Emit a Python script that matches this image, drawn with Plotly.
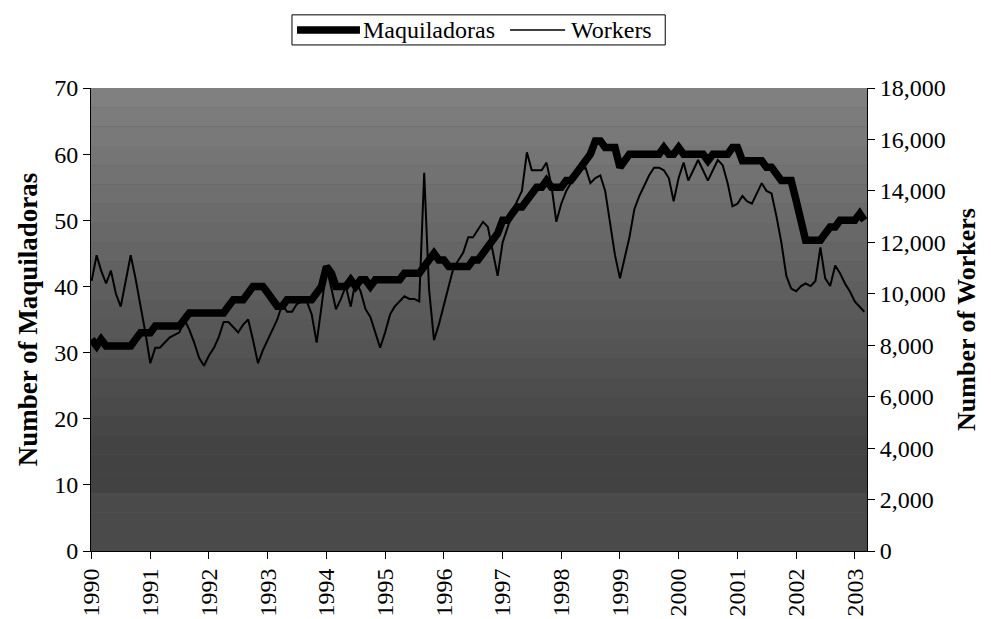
import pandas as pd
import plotly.graph_objects as go

# monthly observations, Jan 1990 .. Mar 2003
months = pd.date_range("1990-01-01", periods=159, freq="MS")

maquiladoras = [
    32, 31, 32, 31, 31, 31, 31, 31, 31, 32, 33, 33,   # 1990
    33, 34, 34, 34, 34, 34, 34, 35, 36, 36, 36, 36,   # 1991
    36, 36, 36, 36, 37, 38, 38, 38, 39, 40, 40, 40,   # 1992
    39, 38, 37, 37, 38, 38, 38, 38, 38, 38, 39, 40,   # 1993
    43, 42, 40, 40, 40, 41, 40, 41, 41, 40, 41, 41,   # 1994
    41, 41, 41, 41, 42, 42, 42, 42, 43, 44, 45, 44,   # 1995
    44, 43, 43, 43, 43, 43, 44, 44, 45, 46, 47, 48,   # 1996
    50, 50, 51, 52, 52, 53, 54, 55, 55, 56, 55, 55,   # 1997
    55, 56, 56, 57, 58, 59, 60, 62, 62, 61, 61, 61,   # 1998
    58, 59, 60, 60, 60, 60, 60, 60, 60, 61, 60, 60,   # 1999
    61, 60, 60, 60, 60, 60, 59, 60, 60, 60, 60, 61,   # 2000
    61, 59, 59, 59, 59, 59, 58, 58, 57, 56, 56, 56,   # 2001
    53, 50, 47, 47, 47, 47, 48, 49, 49, 50, 50, 50,   # 2002
    50, 51, 50,                                       # 2003
]

workers = [
    10500, 11500, 10900, 10400, 10900, 10000, 9500, 10500, 11500, 10600, 9600, 8500,
    7300, 7900, 7900, 8100, 8300, 8400, 8500, 9000, 8600, 8100, 7500, 7200,
    7600, 7900, 8300, 8900, 8900, 8700, 8500, 8800, 9000, 8200, 7300, 7800,
    8200, 8600, 9000, 9600, 9300, 9300, 9600, 9700, 9700, 9200, 8100, 9500,
    11000, 10200, 9400, 9800, 10300, 9500, 10500, 10100, 9400, 9100, 8500, 7900,
    8500, 9200, 9500, 9700, 9900, 9800, 9800, 9700, 14700, 10200, 8200, 8800,
    9600, 10300, 11000, 11300, 11600, 12200, 12200, 12500, 12800, 12600, 11700, 10700,
    12000, 12600, 13100, 13600, 14000, 15500, 14800, 14800, 14800, 15100, 14200, 12800,
    13500, 14000, 14300, 14500, 14800, 14900, 14300, 14500, 14600, 14000, 12800, 11500,
    10600, 11400, 12200, 13300, 13800, 14200, 14600, 14900, 14900, 14800, 14500, 13600,
    14500, 15100, 14400, 14800, 15200, 14800, 14400, 14800, 15200, 15000, 14300, 13400,
    13500, 13800, 13600, 13500, 13900, 14300, 14000, 13900, 13000, 12000, 10700, 10200,
    10100, 10300, 10400, 10300, 10500, 11800, 10600, 10300, 11100, 10800, 10400, 10100,
    9700, 9500, 9300,
]

FONT = "Liberation Serif, Times New Roman, serif"

fig = go.Figure()
fig.add_trace(go.Scatter(
    x=months, y=maquiladoras, mode="lines", name="Maquiladoras",
    line=dict(color="black", width=7.5)))
fig.add_trace(go.Scatter(
    x=months, y=workers, mode="lines", name="Workers", yaxis="y2",
    line=dict(color="black", width=2)))

# scanned grey backdrop: lighter at the top, darker towards the bottom
bands = 24
shapes = []
for i in range(bands):
    t = i / (bands - 1)
    g = int(0x80 - (0x80 - 0x42) * min(1.0, t / 0.8) + (0x08 if t > 0.9 else 0))
    shapes.append(dict(type="rect", xref="paper", yref="paper", layer="below",
                       x0=0, x1=1, y0=1 - (i + 1) / bands, y1=1 - i / bands,
                       fillcolor=f"rgb({g},{g},{g})", line=dict(width=0)))

# hand-drawn legend box above the plot, like the scanned original
LEG_Y = 1.1253
shapes += [
    dict(type="rect", xref="paper", yref="paper", x0=0.259, x1=0.740,
         y0=1.093, y1=1.158, line=dict(color="black", width=1),
         fillcolor="white", layer="above"),
    dict(type="line", xref="paper", yref="paper", x0=0.2655, x1=0.3466,
         y0=LEG_Y, y1=LEG_Y, line=dict(color="black", width=7.5)),
    dict(type="line", xref="paper", yref="paper", x0=0.540, x1=0.611,
         y0=LEG_Y, y1=LEG_Y, line=dict(color="black", width=1.5)),
]
annotations = [
    dict(text="Maquiladoras", xref="paper", yref="paper", x=0.3485, y=LEG_Y,
         xanchor="left", yanchor="middle", showarrow=False,
         font=dict(size=24)),
    dict(text="Workers", xref="paper", yref="paper", x=0.6155, y=LEG_Y,
         xanchor="left", yanchor="middle", showarrow=False,
         font=dict(size=24)),
]

axis_common = dict(showgrid=False, zeroline=False, showline=True,
                   linecolor="black", linewidth=1, ticks="outside",
                   ticklen=7, tickcolor="black")

fig.update_layout(
    width=983, height=611,
    paper_bgcolor="white", plot_bgcolor="#5a5a5a",
    margin=dict(l=83, r=124, t=80, b=68, autoexpand=False),
    font=dict(family=FONT, size=24, color="black"),
    shapes=shapes, annotations=annotations, showlegend=False,
    xaxis=dict(range=["1989-12-28", "2003-03-18"], tickformat="%Y",
               dtick="M12", tick0="1990-01-01", tickangle=-90,
               **axis_common),
    yaxis=dict(range=[0, 70], dtick=10,
               title=dict(text="<b>Number of Maquiladoras</b>",
                          font=dict(size=27), standoff=8),
               **axis_common),
    yaxis2=dict(range=[0, 18000], dtick=2000, tickformat=",",
                overlaying="y", side="right",
                title=dict(text="<b>Number of Workers</b>",
                           font=dict(size=26), standoff=12),
                **axis_common),
)

fig.write_html("out.html")
